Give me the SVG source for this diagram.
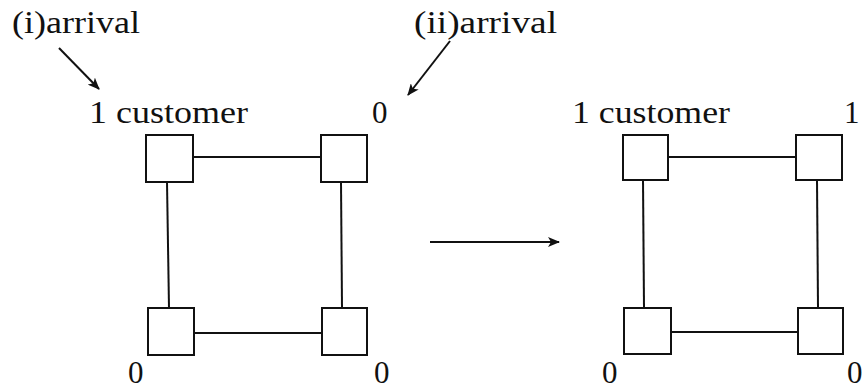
<svg xmlns="http://www.w3.org/2000/svg" width="864" height="390" viewBox="0 0 864 390">
<style>
.t{font-family:"Liberation Serif","Times New Roman",serif;font-size:31px;fill:#111}
.b{fill:#fff;stroke:#111;stroke-width:2}
.c{stroke:#111;stroke-width:2;fill:none}
</style>
<defs>
<marker id="ah" markerWidth="12" markerHeight="10" refX="11" refY="5" orient="auto" markerUnits="userSpaceOnUse">
<path d="M0,0 L12,5 L0,10 L3,5 Z" fill="#111"/>
</marker>
</defs>
<rect width="864" height="390" fill="#fff"/>
<g id="connectors">
<line class="c" x1="193" y1="157" x2="321" y2="157"/>
<line class="c" x1="167" y1="182" x2="169" y2="308"/>
<line class="c" x1="341" y1="182" x2="342" y2="308"/>
<line class="c" x1="194" y1="333" x2="322" y2="333"/>
<line class="c" x1="668" y1="157" x2="796" y2="157"/>
<line class="c" x1="643" y1="180" x2="644" y2="308"/>
<line class="c" x1="817" y1="180" x2="818" y2="308"/>
<line class="c" x1="671" y1="332" x2="798" y2="332"/>
<line class="c" x1="59" y1="48" x2="99" y2="89" marker-end="url(#ah)"/>
<line class="c" x1="450" y1="41" x2="408" y2="95" marker-end="url(#ah)"/>
<line class="c" x1="430" y1="242" x2="559" y2="242" marker-end="url(#ah)"/>
</g>
<g id="L-tl"><rect class="b" x="146" y="135" width="47" height="47"/></g>
<g id="L-tr"><rect class="b" x="321" y="135" width="46" height="47"/></g>
<g id="L-bl"><rect class="b" x="148" y="308" width="46" height="47"/></g>
<g id="L-br"><rect class="b" x="322" y="308" width="45" height="47"/></g>
<g id="R-tl"><rect class="b" x="623" y="135" width="45" height="45"/></g>
<g id="R-tr"><rect class="b" x="796" y="135" width="46" height="45"/></g>
<g id="R-bl"><rect class="b" x="624" y="308" width="47" height="46"/></g>
<g id="R-br"><rect class="b" x="798" y="308" width="45" height="46"/></g>
<g id="labels">
<text class="t" x="12" y="33" textLength="128" lengthAdjust="spacingAndGlyphs">(i)arrival</text>
<text class="t" x="414" y="33" textLength="143" lengthAdjust="spacingAndGlyphs">(ii)arrival</text>
<text class="t" x="89" y="123" textLength="159" lengthAdjust="spacingAndGlyphs">1 customer</text>
<text class="t" x="372" y="123">0</text>
<text class="t" x="128" y="383">0</text>
<text class="t" x="374" y="383">0</text>
<text class="t" x="572" y="123" textLength="158" lengthAdjust="spacingAndGlyphs">1 customer</text>
<text class="t" x="844" y="123">1</text>
<text class="t" x="602" y="383">0</text>
<text class="t" x="847" y="383">0</text>
</g>
</svg>
